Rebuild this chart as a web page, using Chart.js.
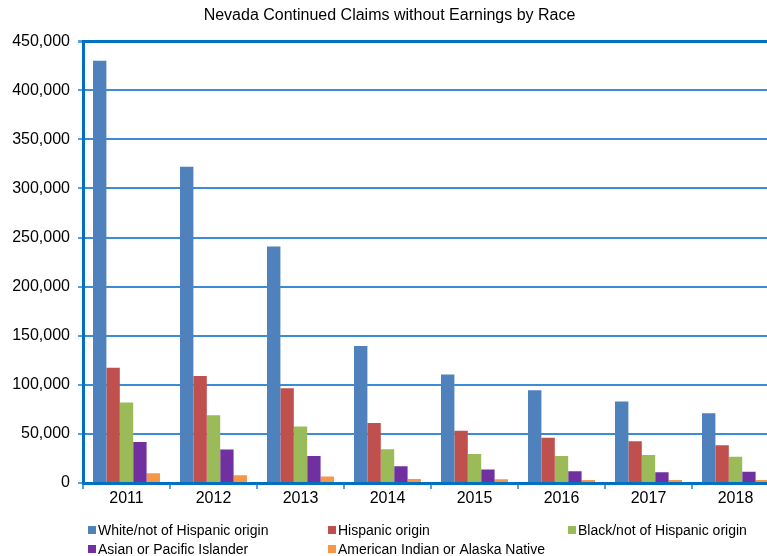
<!DOCTYPE html>
<html>
<head>
<meta charset="utf-8">
<script src="https://cdn.jsdelivr.net/npm/chart.js@4"></script>
<style>
html,body{margin:0;padding:0;background:#fff;overflow:hidden;width:767px;height:556px;}
#wrap{position:absolute;left:0;top:0;width:790px;height:556px;}
</style>
</head>
<body>
<div id="wrap"><canvas id="c" width="790" height="556"></canvas></div>
<script>
const years = ['2011','2012','2013','2014','2015','2016','2017','2018'];
const seriesNames = ['White/not of Hispanic origin','Hispanic origin','Black/not of Hispanic origin','Asian or Pacific Islander','American Indian or Alaska Native'];
const white    = [430000, 322000, 241000, 139500, 110500, 94500, 83000, 71000];
const hispanic = [117500, 109000, 96500, 61000, 53300, 46000, 42500, 38500];
const black    = [82000, 69000, 57500, 34500, 29500, 27500, 28500, 26800];
const asian    = [41700, 34000, 27500, 17000, 13800, 12000, 11000, 11500];
const aian     = [10000, 8000, 6500, 4000, 3800, 3000, 3000, 3000];
const colors = ['#4F81BD','#C0504D','#9BBB59','#7030A0','#F79646'];
const seriesValues = [white, hispanic, black, asian, aian];

const FONT = "'Liberation Sans', Arial, sans-serif";

const legendPlugin = {
  id: 'gridLegend',
  afterDraw(chart) {
    const ctx = chart.ctx;
    ctx.save();
    ctx.font = '14px ' + FONT;
    ctx.textBaseline = 'middle';
    ctx.textAlign = 'left';
    const colX = [88, 328, 568];
    const rowY = [530, 549];
    chart.data.datasets.forEach((ds, i) => {
      const x = colX[i % 3], y = rowY[Math.floor(i / 3)];
      ctx.fillStyle = ds.backgroundColor;
      ctx.fillRect(x, y - 4, 8, 8);
      ctx.fillStyle = '#000';
      ctx.fillText(ds.label, x + 10, y + 1);
    });
    ctx.restore();
  }
};

new Chart(document.getElementById('c'), {
  type: 'bar',
  data: {
    labels: years,
    datasets: seriesNames.map((n, i) => ({
      label: n,
      data: seriesValues[i],
      backgroundColor: colors[i],
      borderWidth: 0,
      categoryPercentage: 0.77,
      barPercentage: 1.0
    }))
  },
  options: {
    responsive: false,
    animation: false,
    devicePixelRatio: 1,
    layout: { padding: { left: 0, right: 11, top: 0, bottom: 38 } },
    plugins: {
      legend: { display: false },
      tooltip: { enabled: false },
      title: {
        display: true,
        text: 'Nevada Continued Claims without Earnings by Race',
        color: '#000',
        font: { family: FONT, size: 16, weight: 'normal' },
        lineHeight: 1.2,
        padding: { top: 6, bottom: 16 }
      }
    },
    scales: {
      x: {
        offset: true,
        grid: {
          offset: true,
          drawOnChartArea: false,
          drawTicks: true,
          tickLength: 6,
          color: '#5A9FDB',
          lineWidth: 2
        },
        border: { display: true, color: '#0070C0', width: 3, z: 1 },
        ticks: { color: '#000', font: { family: FONT, size: 16 }, padding: 0 },
        afterFit(scale) { scale.height = 35; }
      },
      y: {
        min: 0,
        max: 450000,
        ticks: {
          stepSize: 50000,
          color: '#000',
          font: { family: FONT, size: 16 },
          padding: 8,
          callback: v => v.toLocaleString('en-US')
        },
        grid: {
          color: ctx => (ctx.tick && ctx.tick.value === 450000) ? '#0070C0' : '#3A8DD5',
          lineWidth: ctx => (ctx.tick && ctx.tick.value === 450000) ? 3 : 2,
          tickColor: '#5A9FDB',
          tickLength: 5
        },
        border: { display: true, color: '#0070C0', width: 3, z: 1 },
        afterFit(scale) { scale.width = 83; }
      }
    }
  },
  plugins: [legendPlugin]
});
</script>
</body>
</html>
